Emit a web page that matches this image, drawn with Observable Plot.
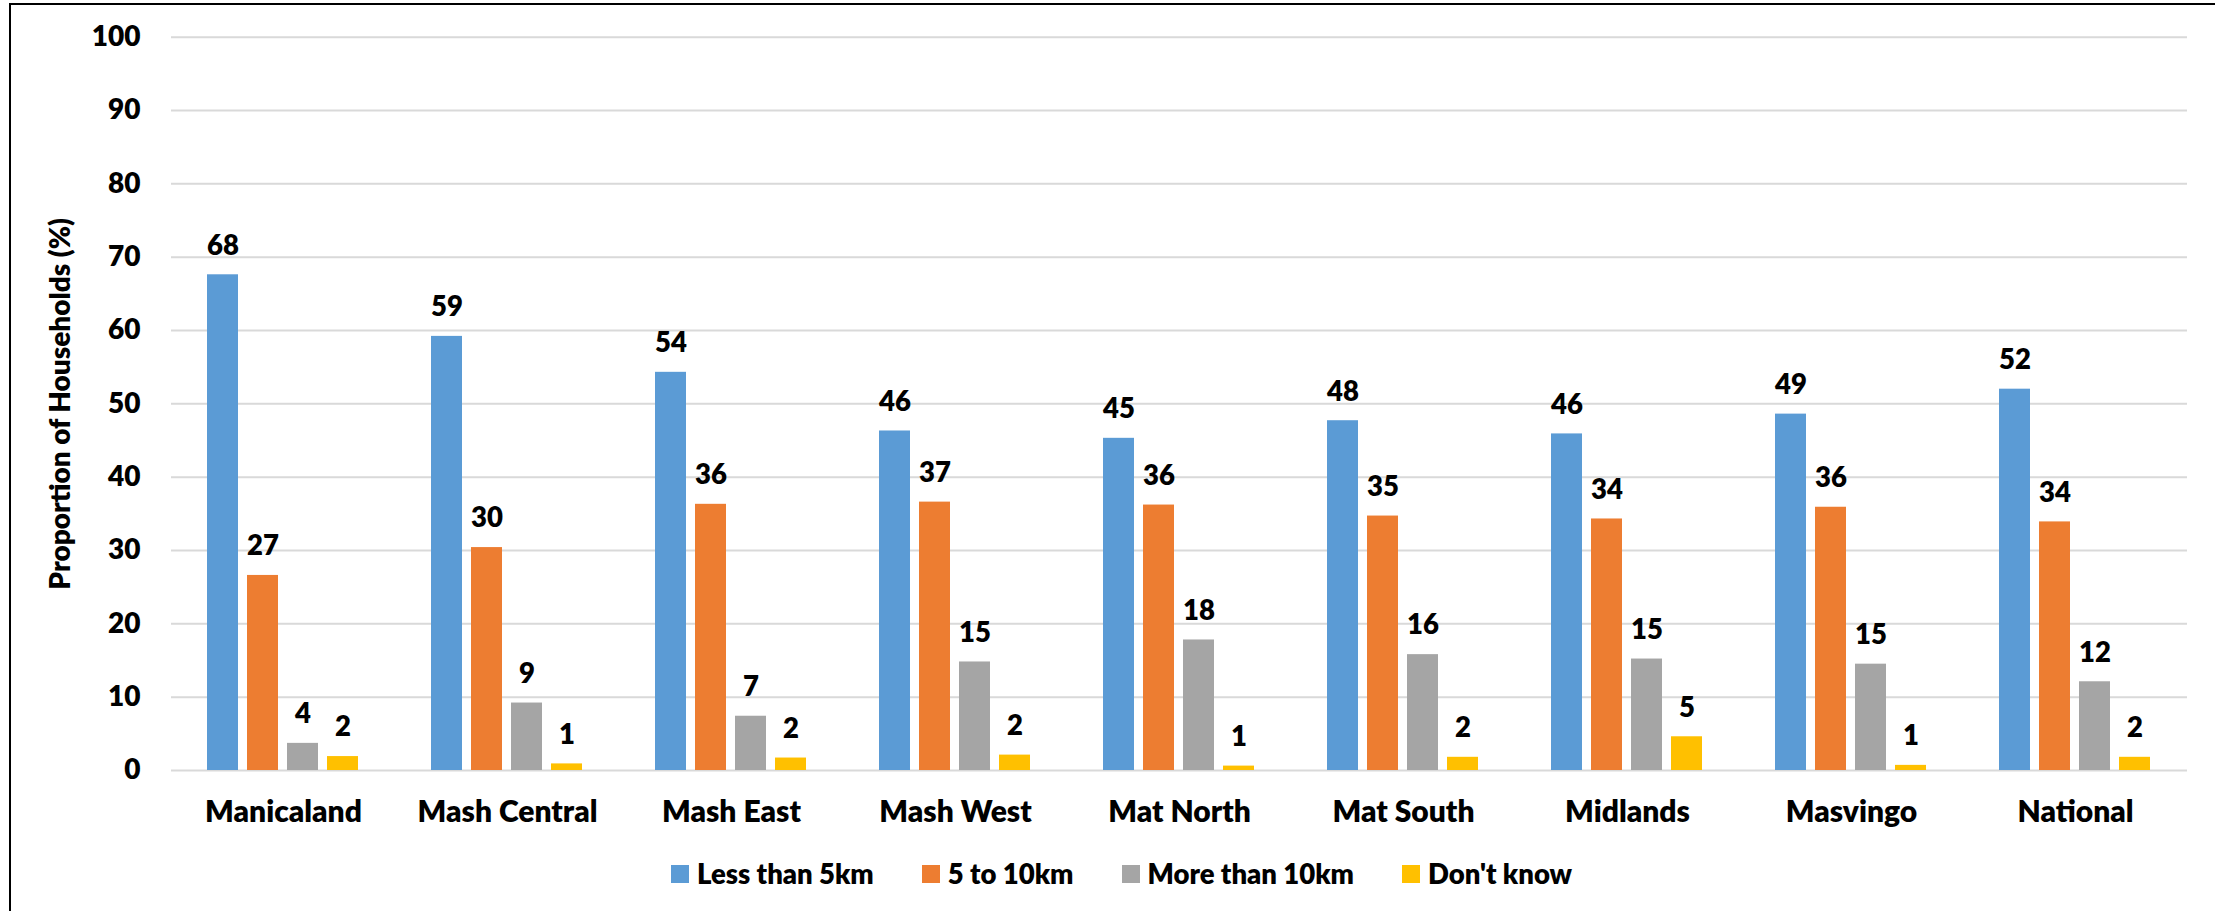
<!DOCTYPE html>
<html>
<head>
<meta charset="utf-8">
<script src="https://cdn.jsdelivr.net/npm/d3@7"></script>
<script src="https://cdn.jsdelivr.net/npm/@observablehq/plot@0.6"></script>
<style>
  html, body { margin: 0; padding: 0; background: #fff; overflow: hidden; width: 2215px; height: 911px; }
  #frame { position: absolute; left: 9px; top: 3px; width: 2400px; height: 1200px; border-left: 2px solid #000; border-top: 2px solid #000; pointer-events: none; }
  #chart { position: relative; }
  #chart svg { display: block; }
  #legend { position: relative; display: flex; justify-content: center; align-items: center; padding-top: 14px; padding-left: 28px; font-family: Lato, "Liberation Sans", sans-serif; font-weight: 800; font-size: 27.5px; color: #000; line-height: 30px; }
  .item { display: flex; align-items: center; margin: 0 24px; }
  .sw { width: 18px; height: 18px; margin-right: 8px; }
</style>
</head>
<body>
<div id="frame"></div>
<div id="chart"></div>
<div id="legend"></div>
<script>
const regions = ["Manicaland", "Mash Central", "Mash East", "Mash West", "Mat North", "Mat South", "Midlands", "Masvingo", "National"];
const series = ["Less than 5km", "5 to 10km", "More than 10km", "Don't know"];
const lessThan5km = [67.6, 59.2, 54.3, 46.3, 45.3, 47.7, 45.9, 48.6, 52.0];
const from5to10km = [26.6, 30.4, 36.3, 36.6, 36.2, 34.7, 34.3, 35.9, 33.9];
const moreThan10km = [3.7, 9.2, 7.4, 14.8, 17.8, 15.8, 15.2, 14.5, 12.1];
const dontKnow = [1.9, 0.9, 1.7, 2.1, 0.6, 1.8, 4.6, 0.7, 1.8];
const colors = ["#5B9BD5", "#ED7D31", "#A5A5A5", "#FFC000"];
const yTicks = [0, 10, 20, 30, 40, 50, 60, 70, 80, 90, 100];
const yTitle = "Proportion of Households (%)";

const seriesValues = [lessThan5km, from5to10km, moreThan10km, dontKnow];
const data = regions.flatMap((r, i) => series.map((s, j) => ({region: r, series: s, value: seriesValues[j][i]})));

const font = "Lato, 'Liberation Sans', sans-serif";
const weight = 800;

const chart = Plot.plot({
  width: 2215,
  height: 845,
  marginLeft: 169,
  marginRight: 26,
  marginTop: 36.7,
  marginBottom: 75,
  style: {fontFamily: font, fontWeight: weight, color: "#000", background: "transparent", overflow: "visible"},
  fx: {domain: regions, padding: 0, label: null},
  x: {domain: series, paddingInner: 0.216, paddingOuter: 0.858, axis: null},
  y: {domain: [0, 100]},
  color: {domain: series, range: colors},
  marks: [
    Plot.ruleY(yTicks, {y: d => d, stroke: "#d9d9d9", strokeWidth: 2}),
    Plot.barY(data, {fx: "region", x: "series", y: "value", fill: "series"}),
    Plot.text(data, {fx: "region", x: "series", y: "value", text: d => String(Math.round(d.value)), dy: -29, fontSize: 27.5, fontWeight: weight, fill: "#000"}),
    Plot.axisY({ticks: yTicks, tickSize: 0, tickPadding: 31, fontSize: 28, fontWeight: weight, fill: "#000", label: yTitle, labelAnchor: "center", labelOffset: 121, labelArrow: "none"}),
    Plot.axisFx({anchor: "bottom", tickSize: 0, tickPadding: 30, fontSize: 30, fontWeight: weight, fill: "#000", label: null})
  ]
});
document.getElementById("chart").appendChild(chart);

const legend = document.getElementById("legend");
series.forEach((s, i) => {
  const item = document.createElement("div");
  item.className = "item";
  const sw = document.createElement("div");
  sw.className = "sw";
  sw.style.background = colors[i];
  const label = document.createElement("span");
  label.textContent = s;
  item.appendChild(sw);
  item.appendChild(label);
  legend.appendChild(item);
});
</script>
</body>
</html>
